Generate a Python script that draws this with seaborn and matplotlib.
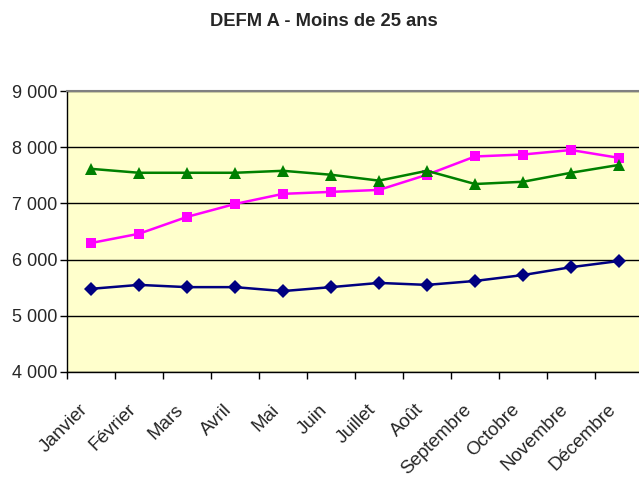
import pandas as pd
import matplotlib
matplotlib.use("Agg")
import matplotlib.pyplot as plt
import matplotlib.transforms as mtransforms
import seaborn as sns
from matplotlib.ticker import FuncFormatter, FixedLocator

months = ["Janvier", "Février", "Mars", "Avril", "Mai", "Juin", "Juillet",
          "Août", "Septembre", "Octobre", "Novembre", "Décembre"]
serie_bleue = [5480, 5550, 5510, 5510, 5440, 5510, 5585, 5550, 5620, 5725, 5865, 5975]
serie_rose = [6295, 6460, 6760, 6990, 7170, 7205, 7240, 7510, 7835, 7870, 7950, 7810]
serie_verte = [7615, 7545, 7545, 7545, 7580, 7510, 7405, 7580, 7345, 7385, 7545, 7685]

df = pd.DataFrame({
    "mois": months * 3,
    "pos": list(range(12)) * 3,
    "valeur": serie_bleue + serie_rose + serie_verte,
    "serie": ["bleue"] * 12 + ["rose"] * 12 + ["verte"] * 12,
})

sns.set_theme(style="white")
plt.rcParams["font.family"] = ["Liberation Sans", "DejaVu Sans"]

fig = plt.figure(figsize=(6.39, 4.82), dpi=100)
ax = fig.add_axes([67 / 639, 1 - 372 / 482, 576 / 639, 281 / 482])
ax.set_facecolor("#FFFFCC")

palette = {"bleue": "#000080", "rose": "#FF00FF", "verte": "#008000"}
markers = {"bleue": "D", "rose": "s", "verte": "^"}
sizes = {"bleue": 7, "rose": 7, "verte": 8}
for name, sub in df.groupby("serie"):
    sns.lineplot(data=sub, x="pos", y="valeur", ax=ax, color=palette[name],
                 marker=markers[name], markersize=sizes[name], markeredgewidth=0,
                 linewidth=1.8, legend=False, zorder=3)

ax.set_xlim(-0.5, 11.5)
ax.set_ylim(4000, 9000)
ax.set_yticks([4000, 5000, 6000, 7000, 8000, 9000])
ax.yaxis.set_major_formatter(FuncFormatter(lambda v, p: f"{int(v):,}".replace(",", " ")))
ax.grid(axis="y", color="black", linewidth=1, zorder=1)
ax.grid(axis="x", visible=False)

ax.set_xticks(range(12))
ax.set_xticklabels(months, rotation=45, ha="right", rotation_mode="anchor")
ax.xaxis.set_minor_locator(FixedLocator([i - 0.5 for i in range(13)]))
ax.tick_params(axis="x", which="major", length=0, pad=21, labelsize=13.5)
ax.tick_params(axis="x", which="minor", length=5, width=1, color="black", direction="out", bottom=True)
ax.tick_params(axis="y", length=5, width=1, color="black", direction="out", left=True, labelsize=13, pad=2)

# shift month labels a bit to the left, like the original
shift = mtransforms.ScaledTranslation(-12 / 100, 0, fig.dpi_scale_trans)
for lab in ax.get_xticklabels():
    lab.set_transform(lab.get_transform() + shift)

for side in ["top", "right"]:
    ax.spines[side].set_color("#808080")
    ax.spines[side].set_linewidth(1.5)
for side in ["left", "bottom"]:
    ax.spines[side].set_color("black")
    ax.spines[side].set_linewidth(1)
ax.set_xlabel("")
ax.set_ylabel("")

fig.text(323.5 / 639, 1 - 21 / 482, "DEFM A - Moins de 25 ans", ha="center", va="center",
         fontsize=13.2, fontweight="bold")

fig.savefig("out.png", dpi=100)
